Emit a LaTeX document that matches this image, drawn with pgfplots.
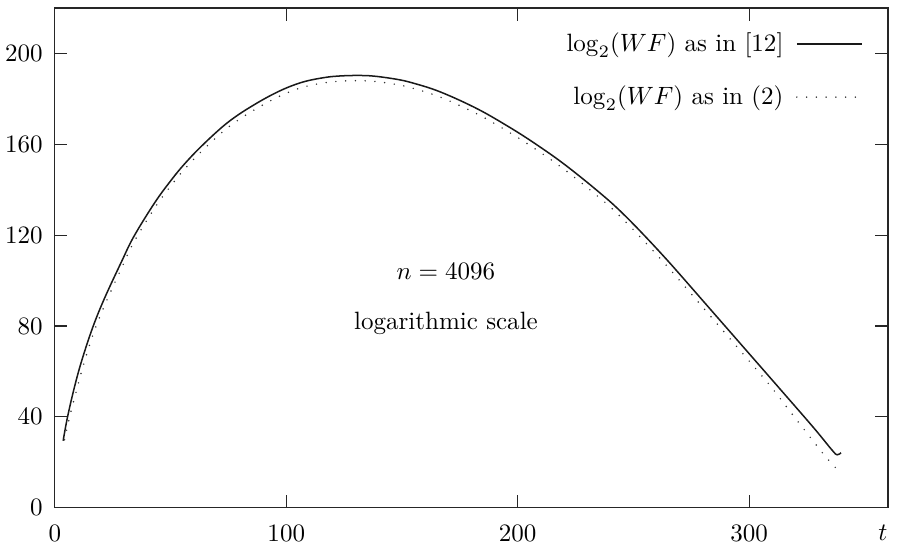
\documentclass[border=0pt]{standalone}
\usepackage{pgfplots}
\pgfplotsset{compat=1.18}

\begin{document}
\begin{tikzpicture}
\begin{axis}[
    scale only axis,
    width=332.8pt, height=199.6pt,
    xmin=0, xmax=360, ymin=0, ymax=220,
    xtick={0,100,200,300},
    ytick={0,40,...,200},
    tick align=inside,
    major tick length=5pt,
    axis line style={line width=0.5pt, black!85},
    tick style={line width=0.5pt, black!85},
    xticklabel style={inner sep=1.5pt, yshift=-5.3pt},
    yticklabel style={inner sep=2pt, xshift=-2.7pt},
    xlabel={$t$},
    xlabel style={at={(rel axis cs:0.994,0)}, anchor=base, yshift=-13.2pt, inner sep=0pt},
    legend style={draw=none, fill=none, at={(rel axis cs:0.9793,0.972)}, anchor=north east,
        row sep=8.3pt, column sep=3pt},
    legend cell align=right,
    legend plot pos=right,
    legend image code/.code={\draw[#1] (0pt,0pt) -- (26pt,0pt);},
]

% log2(WF) as in [12]
\addplot[black!90, line width=0.6pt, smooth, tension=0.6]
    coordinates {
        (3.6,29.5) (5.5,40) (8.7,54) (12,66) (16.6,80) (21.6,92.5) (28.9,108.5)
        (34.2,119.5) (43.3,134.5) (50.5,144.5) (56,151.3) (63,158.8)
        (72.2,167.5) (79,172.8) (86.6,177.7) (94,181.9) (101,185.2)
        (108.2,187.7) (116,189.3) (122,190.0) (130,190.3) (138,190.0)
        (148.9,188.4) (156,186.6) (163.3,184.3) (170,181.6) (177.8,178.0)
        (185,174.3) (192.2,170.1) (202,164.0) (212.4,156.9) (219.5,151.7)
        (226.8,145.9) (234,139.9) (241.3,133.5) (248.5,126.4) (255.7,118.8)
        (263,110.8) (270.1,102.7) (284.5,85.9) (299,69) (313.4,52.2)
        (327.8,35.3) (335.8,25.4) (338,23.3) (339.7,24.2)
    };

% log2(WF) as in (2)
\addplot[black!80, line width=0.65pt, line cap=round, dash pattern=on 0pt off 3.9pt,
    smooth, tension=0.6]
    coordinates {
        (4.2,29.9) (6.4,40.0) (9.2,51.0) (12,61.5) (16.6,76.5) (21.6,89.3)
        (28.9,105.7) (34.2,117) (43.3,132.2) (50.5,142.2) (56,149) (63,156.5)
        (72.2,165.2) (79,170.5) (86.6,175.4) (94,179.6) (101,182.9)
        (108.2,185.4) (116,187) (122,187.7) (130,188) (138,187.7)
        (148.9,186.1) (156,184.3) (163.3,182) (170,179.3) (177.8,175.7)
        (185,172) (192.2,167.8) (202,161.7) (212.4,154.6) (219.5,149.4)
        (226.8,143.6) (234,137.6) (241.3,131.2) (248.5,123.9) (255.7,116.2)
        (263,108.1) (270.1,99.9) (284.5,82.9) (299,65.8) (309.5,53.2)
        (316.6,43.8) (323.7,34.5) (330.7,25.4) (334.5,20.8) (338.4,16.6)
        (340.1,16.0)
    };

\legend{$\log_2(WF)$ as in [12], $\log_2(WF)$ as in (2)}

\node at (axis cs:169,104.2) {$n=4096$};
\node at (axis cs:169,81.3) {logarithmic scale};

\end{axis}
\path (current axis.north east) ++(3.6pt,3.2pt);
\end{tikzpicture}
\end{document}
